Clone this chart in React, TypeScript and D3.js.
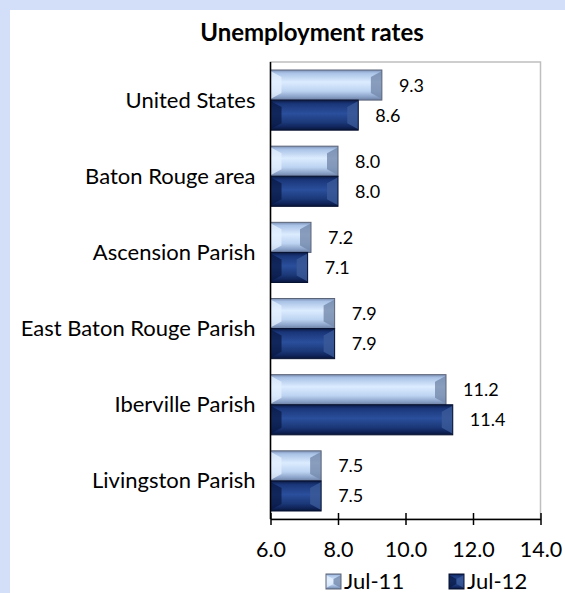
import { useEffect, useRef } from 'react';
import * as d3 from 'd3';

const categories = [
  'United States',
  'Baton Rouge area',
  'Ascension Parish',
  'East Baton Rouge Parish',
  'Iberville Parish',
  'Livingston Parish',
];
const seriesNames = ['Jul-11', 'Jul-12'];
const jul11 = [9.3, 8.0, 7.2, 7.9, 11.2, 7.5];
const jul12 = [8.6, 8.0, 7.1, 7.9, 11.4, 7.5];
const xTicks = [6, 8, 10, 12, 14];

const W = 565;
const H = 593;
const FONT = 'Lato, "Open Sans", sans-serif';

const palettes = [
  {
    id: 'gLight',
    stops: [
      [0, '#7c90b3'],
      [0.1, '#a9c2e6'],
      [0.4, '#dcecff'],
      [0.7, '#bcd3f1'],
      [0.88, '#8ea5cb'],
      [1, '#6c7fa2'],
    ],
    left: '#e4f0ff',
    right: '#7489ad',
    stroke: '#5a6478',
  },
  {
    id: 'gDark',
    stops: [
      [0, '#0b1a44'],
      [0.12, '#1a3679'],
      [0.45, '#2b4f9c'],
      [0.75, '#1b3878'],
      [0.9, '#10245a'],
      [1, '#081538'],
    ],
    left: '#0a1a46',
    right: '#3b5a98',
    stroke: '#061030',
  },
];

export default function App() {
  const svgRef = useRef<SVGSVGElement>(null);

  useEffect(() => {
    if (!svgRef.current) return;
    const svg = d3.select(svgRef.current);
    svg.selectAll('*').remove();

    const plot = { left: 270.5, right: 540.5, top: 62, bottom: 519 };

    const x = d3.scaleLinear().domain([6, 14]).range([plot.left, plot.right]);
    const y = d3.scaleBand<string>()
      .domain(categories)
      .range([plot.top, plot.bottom])
      .paddingInner(0.21)
      .paddingOuter(0.105);
    const sub = d3.scaleBand<string>().domain(seriesNames).range([0, y.bandwidth()]);

    const defs = svg.append('defs');
    palettes.forEach(p => {
      const lg = defs.append('linearGradient')
        .attr('id', p.id)
        .attr('x1', 0).attr('y1', 0).attr('x2', 0).attr('y2', 1);
      p.stops.forEach(([o, c]) => lg.append('stop').attr('offset', o as number).attr('stop-color', c as string));
    });

    // page background + chart panel
    svg.append('rect').attr('width', W).attr('height', H).attr('fill', '#d3dff9');
    svg.append('rect').attr('x', 10).attr('y', 10).attr('width', W - 10).attr('height', H - 10).attr('fill', '#ffffff');

    svg.append('text')
      .attr('x', 312)
      .attr('y', 41)
      .attr('text-anchor', 'middle')
      .attr('font-family', FONT)
      .attr('font-weight', 'bold')
      .attr('font-size', '24px')
      .attr('fill', '#000')
      .text('Unemployment rates');

    // plot area border
    svg.append('rect')
      .attr('x', plot.left)
      .attr('y', plot.top)
      .attr('width', plot.right - plot.left)
      .attr('height', plot.bottom - plot.top)
      .attr('fill', 'none')
      .attr('stroke', '#bfbfbf')
      .attr('stroke-width', 1.5);

    const drawBar = (g: any, x0: number, x1: number, y0: number, h: number, p: typeof palettes[0]) => {
      const b = Math.min(11, (x1 - x0) / 2);
      const t = Math.min(7, h / 3);
      g.append('rect')
        .attr('x', x0).attr('y', y0).attr('width', x1 - x0).attr('height', h)
        .attr('fill', `url(#${p.id})`);
      g.append('polygon')
        .attr('points', [[x0, y0 + 1], [x0 + b, y0 + t], [x0 + b, y0 + h - t], [x0, y0 + h - 1]].map(d => d.join(',')).join(' '))
        .attr('fill', p.left)
        .attr('opacity', 0.75);
      g.append('polygon')
        .attr('points', [[x1, y0 + 1], [x1 - b, y0 + t], [x1 - b, y0 + h - t], [x1, y0 + h - 1]].map(d => d.join(',')).join(' '))
        .attr('fill', p.right)
        .attr('opacity', 0.8);
      g.append('rect')
        .attr('x', x0).attr('y', y0).attr('width', x1 - x0).attr('height', h)
        .attr('fill', 'none')
        .attr('stroke', p.stroke)
        .attr('stroke-width', 1);
    };

    const bars = svg.append('g');
    const series = [jul11, jul12];
    categories.forEach((cat, i) => {
      series.forEach((vals, s) => {
        const y0 = (y(cat) ?? 0) + (sub(seriesNames[s]) ?? 0);
        const h = sub.bandwidth();
        drawBar(bars, x(6), x(vals[i]), y0, h, palettes[s]);
        bars.append('text')
          .attr('x', x(vals[i]) + 17)
          .attr('y', y0 + h / 2 + 6.5)
          .attr('font-family', FONT)
          .attr('font-size', '18px')
          .attr('fill', '#000')
          .text(d3.format('.1f')(vals[i]));
      });

      svg.append('text')
        .attr('x', plot.left - 15)
        .attr('y', (y(cat) ?? 0) + y.bandwidth() / 2 + 7.5)
        .attr('text-anchor', 'end')
        .attr('font-family', FONT)
        .attr('font-size', '22px')
        .attr('fill', '#000')
        .text(cat);
    });

    // left axis line
    svg.append('line')
      .attr('x1', plot.left).attr('x2', plot.left)
      .attr('y1', plot.top).attr('y2', plot.bottom)
      .attr('stroke', '#000').attr('stroke-width', 1.5);

    const xAxis = d3.axisBottom(x)
      .tickValues(xTicks)
      .tickFormat(d3.format('.1f') as any)
      .tickSize(6)
      .tickSizeOuter(0);

    svg.append('g')
      .attr('transform', `translate(0,${plot.bottom})`)
      .call(xAxis)
      .call(g => g.select('.domain').attr('stroke', '#000').attr('stroke-width', 1.5))
      .call(g => g.selectAll('.tick line').attr('y1', -6).attr('stroke', '#000').attr('stroke-width', 1.5))
      .call(g => g.selectAll('.tick text')
        .attr('y', 38)
        .attr('dy', null)
        .attr('font-family', FONT)
        .attr('font-size', '21.5px')
        .attr('fill', '#000'));

    // legend
    const legendX = [326, 449];
    seriesNames.forEach((name, s) => {
      const lg = svg.append('g');
      drawBar(lg, legendX[s], legendX[s] + 15, 574, 15, palettes[s]);
      lg.append('text')
        .attr('x', legendX[s] + 18)
        .attr('y', 589)
        .attr('font-family', FONT)
        .attr('font-size', '22px')
        .attr('fill', '#000')
        .text(name);
    });
  }, []);

  return (
    <div style={{ position: 'absolute', left: 0, top: 0, width: W, height: H }}>
      <svg ref={svgRef} width={W} height={H} style={{ display: 'block' }} />
    </div>
  );
}
